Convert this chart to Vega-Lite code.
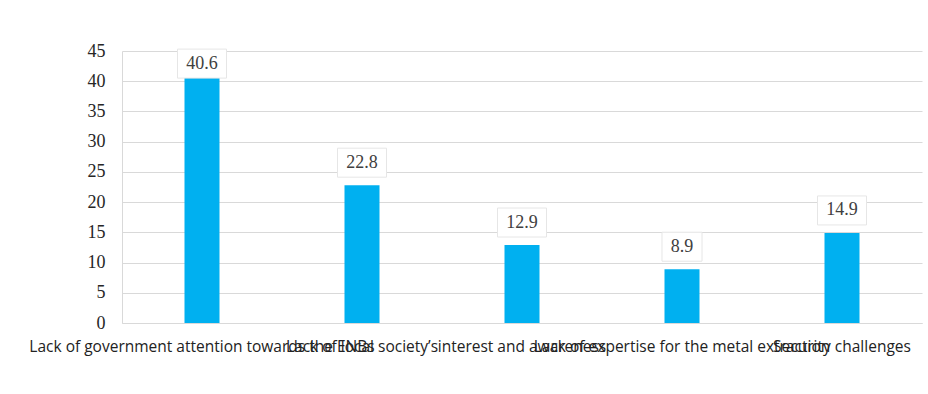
{
  "$schema": "https://vega.github.io/schema/vega-lite/v6.json",
  "width": 800,
  "height": 272,
  "autosize": {"type": "none"},
  "padding": {"left": 122, "top": 51, "right": 6, "bottom": 71},
  "background": "white",
  "config": {"view": {"stroke": null}},
  "data": {
    "values": [
      {"challenge": "Lack of government attention towards the ENBs", "value": 40.6},
      {"challenge": "Lack of local society’s", "value": 22.8},
      {"challenge": "interest and awareness", "value": 12.9},
      {"challenge": "Lack of expertise for the metal extraction", "value": 8.9},
      {"challenge": "Security challenges", "value": 14.9}
    ]
  },
  "encoding": {
    "x": {
      "field": "challenge",
      "type": "nominal",
      "sort": null,
      "scale": {"paddingInner": 0, "paddingOuter": 0},
      "axis": {
        "title": null,
        "labelAngle": 0,
        "labelOverlap": false,
        "labelLimit": 0,
        "labelFont": "Open Sans",
        "labelFontSize": 15.5,
        "labelColor": "#222222",
        "labelPadding": 16,
        "labelBaseline": "top",
        "ticks": false,
        "domainColor": "#d9d9d9"
      }
    },
    "y": {
      "field": "value",
      "type": "quantitative",
      "scale": {"domain": [0, 45], "nice": false},
      "axis": {
        "title": null,
        "values": [0, 5, 10, 15, 20, 25, 30, 35, 40, 45],
        "grid": true,
        "gridColor": "#d9d9d9",
        "domain": true,
        "domainColor": "#d9d9d9",
        "ticks": false,
        "labelPadding": 17,
        "labelFont": "Times New Roman, Liberation Serif, serif",
        "labelFontSize": 18,
        "labelColor": "#262626"
      }
    }
  },
  "layer": [
    {"mark": {"type": "bar", "color": "#00B0F0", "size": 35}},
    {
      "transform": [{"filter": "datum.value >= 10 && datum.value <= 40"}],
      "mark": {"type": "point", "shape": "M-1.69,-1L1.69,-1L1.69,1L-1.69,1Z", "size": 841, "filled": true, "color": "white", "stroke": "#e6e6e6", "strokeWidth": 1, "opacity": 1, "yOffset": -22.5}
    },
    {
      "transform": [{"filter": "datum.value > 40"}],
      "mark": {"type": "point", "shape": "M-1.69,-1L1.69,-1L1.69,1L-1.69,1Z", "size": 841, "filled": true, "color": "white", "stroke": "#e6e6e6", "strokeWidth": 1, "opacity": 1, "yOffset": -14}
    },
    {
      "transform": [{"filter": "datum.value < 10"}],
      "mark": {"type": "point", "shape": "M-1.38,-1L1.38,-1L1.38,1L-1.38,1Z", "size": 841, "filled": true, "color": "white", "stroke": "#e6e6e6", "strokeWidth": 1, "opacity": 1, "yOffset": -22.5}
    },
    {
      "transform": [{"filter": "datum.value <= 40"}],
      "mark": {"type": "text", "font": "Times New Roman, Liberation Serif, serif", "fontSize": 18, "color": "#404040", "baseline": "middle", "yOffset": -22.5},
      "encoding": {
        "text": {"field": "value", "type": "quantitative", "format": ".1f"}
      }
    },
    {
      "transform": [{"filter": "datum.value > 40"}],
      "mark": {"type": "text", "font": "Times New Roman, Liberation Serif, serif", "fontSize": 18, "color": "#404040", "baseline": "middle", "yOffset": -14},
      "encoding": {
        "text": {"field": "value", "type": "quantitative", "format": ".1f"}
      }
    }
  ]
}
